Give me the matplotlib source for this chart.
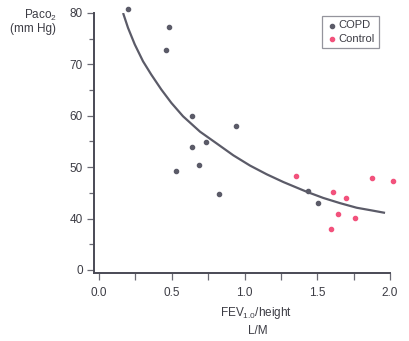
import matplotlib.pyplot as plt
from matplotlib.ticker import MultipleLocator

plt.rcParams['font.family'] = ['Liberation Sans', 'DejaVu Sans']

# COPD patients (FEV1.0/height L/M, PaCO2 mm Hg)
copd_x = [0.20, 0.48, 0.46, 0.64, 0.94, 0.64, 0.735, 0.685, 0.53, 0.825, 1.434, 1.503]
copd_y = [80.7, 77.3, 72.8, 60.0, 58.0, 53.9, 54.9, 50.4, 49.3, 44.7, 45.4, 43.0]

# controls
ctrl_x = [1.356, 1.608, 1.695, 1.64, 1.76, 1.595, 1.874, 2.02]
ctrl_y = [48.2, 45.1, 43.9, 40.8, 40.2, 37.9, 47.8, 47.4]

# trend curve
curve_x = [0.165, 0.199, 0.245, 0.302, 0.359, 0.428, 0.497, 0.577, 0.694,
           0.809, 0.923, 1.038, 1.153, 1.267, 1.428, 1.542, 1.656, 1.771,
           1.870, 1.966]
curve_y = [80.0, 77.1, 73.9, 70.6, 68.0, 65.1, 62.5, 59.9, 56.9,
           54.6, 52.3, 50.3, 48.6, 47.1, 45.2, 44.0, 43.0, 42.1,
           41.6, 41.1]

# y axis is broken: the "0" label sits where 30 would be
ytick_pos = [30, 40, 50, 60, 70, 80]
ytick_lab = ['0', '40', '50', '60', '70', '80']
xtick_pos = [0.0, 0.5, 1.0, 1.5, 2.0]
xtick_lab = ['0.0', '0.5', '1.0', '1.5', '2.0']

gray = '#5b5b68'
pink = '#f2527c'
txt = '#3c3c44'

fig = plt.figure(figsize=(4.09, 3.41), dpi=100)
ax = fig.add_axes([94 / 409, 68 / 341, 296 / 409, 260 / 341])

ax.plot(curve_x, curve_y, color=gray, lw=1.6, solid_capstyle='butt',
        solid_joinstyle='round', zorder=2)
ax.scatter(copd_x, copd_y, s=9, color=gray, zorder=3, label='COPD', clip_on=False)
ax.scatter(ctrl_x, ctrl_y, s=9, color=pink, zorder=3, label='Control', clip_on=False)

ax.set_xlim(-0.035, 2.0)
ax.set_ylim(29.4, 80)

ax.set_xticks(xtick_pos)
ax.set_xticklabels(xtick_lab)
ax.xaxis.set_minor_locator(MultipleLocator(0.25))
ax.set_yticks(ytick_pos)
ax.set_yticklabels(ytick_lab)
ax.yaxis.set_minor_locator(MultipleLocator(5))

for s in ['top', 'right']:
    ax.spines[s].set_visible(False)
for s in ['left', 'bottom']:
    ax.spines[s].set_color('#4a4a55')
    ax.spines[s].set_linewidth(1.4)

ax.tick_params(axis='both', which='both', color='#6a6a74', width=0.9,
               labelcolor=txt, labelsize=8.5, direction='out')
ax.tick_params(axis='y', which='major', length=5, pad=3)
ax.tick_params(axis='y', which='minor', length=3.5)
ax.tick_params(axis='x', which='major', length=5, pad=5)
ax.tick_params(axis='x', which='minor', length=5)

fig.text(57 / 409, 1 - 15 / 341, r'Pa$\mathregular{co_2}$', ha='right', va='center',
         fontsize=8.5, color=txt)
fig.text(56 / 409, 1 - 29 / 341, '(mm Hg)', ha='right', va='center',
         fontsize=8.5, color=txt)
fig.text(256 / 409, 1 - 313 / 341, r'FEV$_{\mathregular{1.0}}$/height', ha='center',
         va='center', fontsize=8.5, color=txt)
fig.text(258 / 409, 1 - 331 / 341, 'L/M', ha='center', va='center',
         fontsize=8.5, color=txt)

leg = ax.legend(loc='upper left', bbox_to_anchor=(322 / 409, 1 - 16 / 341),
                bbox_transform=fig.transFigure, frameon=True, fancybox=False,
                fontsize=8, handletextpad=0.1, handlelength=1.0, borderpad=0.4,
                labelspacing=0.3, markerscale=1.0, borderaxespad=0)
leg.get_frame().set_edgecolor('#7a7a84')
leg.get_frame().set_linewidth(0.9)
for t in leg.get_texts():
    t.set_color(txt)

fig.savefig('out.png', dpi=100)
